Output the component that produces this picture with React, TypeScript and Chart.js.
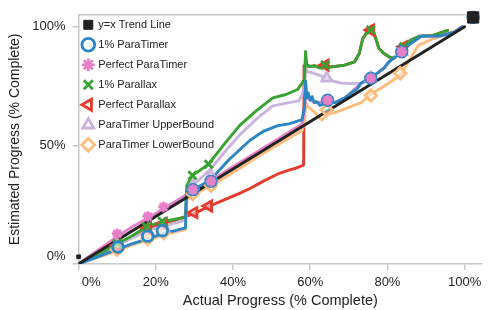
import React, { useEffect, useRef } from "react";
import { Chart, registerables } from "chart.js";

Chart.register(...registerables);

// ---------- labels ----------
const seriesLabels = [
  "y=x Trend Line",
  "1% ParaTimer",
  "Perfect ParaTimer",
  "1% Parallax",
  "Perfect Parallax",
  "ParaTimer UpperBound",
  "ParaTimer LowerBound",
];
const xTitle = "Actual Progress (% Complete)";
const yTitle = "Estimated Progress (% Complete)";
const xTickValues = [0, 0.2, 0.4, 0.6, 0.8, 1.0];
const xTickLabels = ["0%", "20%", "40%", "60%", "80%", "100%"];
const yTickValues = [0, 0.5, 1.0];
const yTickLabels = ["0%", "50%", "100%"];

type P = [number, number];

// ---------- series: lines ----------
const trendLine: P[] = [[0, 0], [1, 1]];

const paraTimer1Line: P[] = [
  [0, 0], [0.05, 0.03], [0.1, 0.062], [0.14, 0.085], [0.179, 0.105], [0.217, 0.128], [0.25, 0.14], [0.277, 0.152],
  [0.279, 0.288], [0.296, 0.31], [0.342, 0.355], [0.39, 0.44], [0.444, 0.521], [0.48, 0.56], [0.516, 0.583],
  [0.545, 0.59], [0.579, 0.608], [0.585, 0.66], [0.588, 0.77], [0.591, 0.7], [0.595, 0.72], [0.6, 0.69],
  [0.605, 0.705], [0.61, 0.68], [0.617, 0.684], [0.625, 0.668], [0.635, 0.675], [0.645, 0.69], [0.664, 0.68],
  [0.69, 0.7], [0.706, 0.721], [0.72, 0.735], [0.732, 0.762], [0.757, 0.783], [0.791, 0.825], [0.804, 0.852],
  [0.837, 0.894], [0.859, 0.928], [0.888, 0.96], [0.935, 0.96], [0.973, 0.977], [0.994, 1.0],
];

const perfectParaTimerLine: P[] = [
  [0, 0], [0.05, 0.058], [0.1, 0.115], [0.14, 0.158], [0.179, 0.192], [0.22, 0.232], [0.25, 0.262], [0.296, 0.31],
  [0.343, 0.352], [0.42, 0.43], [0.503, 0.513], [0.579, 0.59], [0.586, 0.66], [0.588, 0.75], [0.592, 0.7],
  [0.6, 0.69], [0.62, 0.68], [0.645, 0.69], [0.664, 0.68], [0.69, 0.7], [0.706, 0.721], [0.732, 0.762],
  [0.757, 0.783], [0.791, 0.825], [0.804, 0.852], [0.837, 0.894], [0.859, 0.928], [0.888, 0.96], [0.935, 0.96],
  [0.973, 0.977], [0.994, 1.0],
];

const parallax1Line: P[] = [
  [0, 0], [0.05, 0.04], [0.1, 0.085], [0.14, 0.12], [0.176, 0.157], [0.217, 0.178], [0.25, 0.188], [0.277, 0.196],
  [0.28, 0.33], [0.295, 0.373], [0.337, 0.42], [0.342, 0.432], [0.38, 0.51], [0.418, 0.585], [0.46, 0.645],
  [0.503, 0.7], [0.537, 0.714], [0.567, 0.735], [0.579, 0.762], [0.585, 0.78], [0.588, 0.895], [0.591, 0.84],
  [0.6, 0.832], [0.612, 0.835], [0.625, 0.826], [0.639, 0.838], [0.65, 0.83], [0.664, 0.832], [0.689, 0.838],
  [0.715, 0.852], [0.727, 0.887], [0.736, 0.949], [0.749, 0.983], [0.761, 0.99], [0.77, 0.949], [0.778, 0.908],
  [0.791, 0.887], [0.804, 0.873], [0.816, 0.866], [0.83, 0.89], [0.859, 0.942], [0.884, 0.96], [0.918, 0.963],
  [0.956, 0.984],
];

const perfectParallaxLine: P[] = [
  [0, 0], [0.05, 0.04], [0.1, 0.078], [0.14, 0.115], [0.179, 0.148], [0.22, 0.17], [0.25, 0.185], [0.278, 0.2],
  [0.299, 0.212], [0.337, 0.242], [0.38, 0.272], [0.414, 0.295], [0.444, 0.318], [0.48, 0.35], [0.52, 0.382],
  [0.545, 0.395], [0.565, 0.405], [0.583, 0.417], [0.584, 0.835], [0.6, 0.832], [0.612, 0.835], [0.625, 0.826],
  [0.639, 0.838], [0.65, 0.83], [0.664, 0.832], [0.689, 0.838], [0.715, 0.852], [0.727, 0.887], [0.736, 0.949],
  [0.749, 0.983], [0.761, 0.99], [0.77, 0.949], [0.778, 0.908], [0.791, 0.887], [0.804, 0.873], [0.816, 0.866],
  [0.83, 0.89], [0.859, 0.942], [0.884, 0.96], [0.918, 0.963], [0.956, 0.984],
];

const upperBoundLine: P[] = [
  [0, 0], [0.05, 0.04], [0.1, 0.08], [0.14, 0.11], [0.179, 0.14], [0.22, 0.16], [0.25, 0.172], [0.277, 0.185],
  [0.28, 0.315], [0.296, 0.33], [0.342, 0.4], [0.38, 0.475], [0.418, 0.545], [0.46, 0.61], [0.503, 0.666],
  [0.545, 0.68], [0.571, 0.687], [0.579, 0.714], [0.586, 0.75], [0.588, 0.832], [0.592, 0.81], [0.605, 0.805],
  [0.621, 0.797], [0.643, 0.783], [0.66, 0.77], [0.681, 0.762], [0.706, 0.76], [0.732, 0.762], [0.745, 0.772],
  [0.757, 0.783], [0.791, 0.825], [0.804, 0.852], [0.837, 0.894], [0.859, 0.928], [0.888, 0.96], [0.935, 0.96],
  [0.973, 0.977], [0.994, 1.0],
];

const lowerBoundLine: P[] = [
  [0, 0], [0.05, 0.028], [0.1, 0.055], [0.14, 0.08], [0.179, 0.1], [0.22, 0.122], [0.25, 0.135], [0.277, 0.145],
  [0.28, 0.27], [0.296, 0.29], [0.343, 0.33], [0.38, 0.365], [0.42, 0.405], [0.46, 0.448], [0.503, 0.49],
  [0.545, 0.53], [0.579, 0.562], [0.586, 0.6], [0.588, 0.68], [0.592, 0.666], [0.6, 0.655], [0.613, 0.638],
  [0.622, 0.62], [0.63, 0.606], [0.643, 0.63], [0.664, 0.638], [0.698, 0.659], [0.732, 0.68], [0.76, 0.718],
  [0.791, 0.749], [0.816, 0.776], [0.837, 0.804], [0.859, 0.866], [0.88, 0.921], [0.918, 0.949], [0.956, 0.97],
  [0.986, 0.99],
];

// ---------- series: markers ----------
const trendMarkers: P[] = [[0, 0.03], [1.022, 1.039]];
const paraTimer1Markers: P[] = [
  [0.102, 0.071], [0.179, 0.117], [0.217, 0.14], [0.296, 0.313], [0.343, 0.348],
  [0.645, 0.69], [0.757, 0.783], [0.837, 0.894], [1.022, 1.039],
];
const perfectParaTimerMarkers: P[] = [
  [0.1, 0.127], [0.179, 0.2], [0.22, 0.24], [0.296, 0.313], [0.343, 0.348],
  [0.645, 0.69], [0.757, 0.783], [0.837, 0.894],
];
const parallax1Markers: P[] = [
  [0.1, 0.085], [0.176, 0.157], [0.217, 0.179], [0.295, 0.373], [0.337, 0.42],
  [0.639, 0.838], [0.757, 0.986], [0.842, 0.915],
];
const perfectParallaxMarkers: P[] = [
  [0.1, 0.078], [0.179, 0.15], [0.22, 0.17], [0.299, 0.216], [0.337, 0.244],
  [0.639, 0.838], [0.757, 0.986], [0.842, 0.915],
];
const upperBoundMarkers: P[] = [
  [0.1, 0.08], [0.179, 0.14], [0.22, 0.16], [0.296, 0.33], [0.343, 0.37],
  [0.643, 0.783], [0.757, 0.783], [0.837, 0.894],
];
const lowerBoundMarkers: P[] = [
  [0.1, 0.06], [0.179, 0.105], [0.22, 0.13], [0.296, 0.295], [0.343, 0.33],
  [0.643, 0.649], [0.757, 0.71], [0.833, 0.804],
];

// ---------- styling ----------
const COLORS = {
  black: "#222222",
  blue: "#2a86c5",
  pink: "#e680c8",
  green: "#38a232",
  red: "#e63a2c",
  purple: "#c9b5dc",
  orange: "#ffbd7c",
  axis: "#c8c8c8",
  text: "#222222",
};

const toXY = (pts: P[]) => pts.map(([x, y]) => ({ x, y }));

function lineDs(pts: P[], color: string, order: number) {
  return {
    label: "_line",
    data: toXY(pts),
    showLine: true,
    borderColor: color,
    backgroundColor: color,
    borderWidth: 2.9,
    pointRadius: 0,
    pointHoverRadius: 0,
    tension: 0,
    borderJoinStyle: "round",
    borderCapStyle: "round",
    order,
  };
}

function markerDs(label: string, pts: P[], style: any, order: number) {
  return {
    label,
    data: toXY(pts),
    showLine: false,
    clip: false,
    order,
    ...style,
  };
}

const framePlugin = {
  id: "framePlugin",
  afterLayout(chart: any) {
    const lg = chart.legend;
    const ca = chart.chartArea;
    if (!lg || !ca) return;
    lg.left = ca.left - 3.8;
    lg.top = ca.top - 4.5;
    lg.right = lg.left + lg.width;
    lg.bottom = lg.top + lg.height;
  },
  beforeDatasetsDraw(chart: any) {
    const { ctx, chartArea } = chart;
    ctx.save();
    ctx.strokeStyle = COLORS.axis;
    ctx.lineWidth = 1.5;
    ctx.beginPath();
    ctx.moveTo(chartArea.left, chartArea.top);
    ctx.lineTo(chartArea.right - 8, chartArea.top);
    ctx.stroke();
    ctx.restore();
  },
};

function tickLabel(values: number[], labels: string[], v: number) {
  const i = values.findIndex((t) => Math.abs(t - v) < 1e-6);
  return i < 0 ? "" : labels[i];
}

export default function App() {
  const ref = useRef<HTMLCanvasElement | null>(null);

  useEffect(() => {
    if (!ref.current) return;
    Chart.defaults.font.family = "'Liberation Sans', Arial, Helvetica, sans-serif";

    const datasets: any[] = [
      // markers (legend entries, in legend order)
      markerDs(seriesLabels[0], trendMarkers, {
        pointStyle: "rect",
        pointRadius: (c: any) => (c.dataIndex === 0 ? 2.6 : 8),
        pointBorderWidth: 1,
        pointBorderColor: COLORS.black,
        pointBackgroundColor: COLORS.black,
      }, 1),
      markerDs(seriesLabels[1], paraTimer1Markers, {
        pointStyle: "circle",
        pointRadius: 5.3,
        pointBorderWidth: 2.8,
        pointBorderColor: COLORS.blue,
        pointBackgroundColor: "rgba(255,255,255,0.55)",
      }, 4),
      markerDs(seriesLabels[2], perfectParaTimerMarkers, {
        pointStyle: "star",
        pointRadius: 5.3,
        pointBorderWidth: 2.8,
        pointBorderColor: COLORS.pink,
        pointBackgroundColor: COLORS.pink,
      }, 3),
      markerDs(seriesLabels[3], parallax1Markers, {
        pointStyle: "crossRot",
        pointRadius: 5.8,
        pointBorderWidth: 2.8,
        pointBorderColor: COLORS.green,
        pointBackgroundColor: COLORS.green,
      }, 5),
      markerDs(seriesLabels[4], perfectParallaxMarkers, {
        pointStyle: "triangle",
        pointRotation: -90,
        pointRadius: 5.8,
        pointBorderWidth: 2.8,
        pointBorderColor: COLORS.red,
        pointBackgroundColor: "rgba(255,255,255,0.5)",
      }, 6),
      markerDs(seriesLabels[5], upperBoundMarkers, {
        pointStyle: "triangle",
        pointRadius: 5.8,
        pointBorderWidth: 2.8,
        pointBorderColor: COLORS.purple,
        pointBackgroundColor: "rgba(255,255,255,0.5)",
      }, 7),
      markerDs(seriesLabels[6], lowerBoundMarkers, {
        pointStyle: "rectRot",
        pointRadius: 5.8,
        pointBorderWidth: 2.8,
        pointBorderColor: COLORS.orange,
        pointBackgroundColor: "rgba(255,255,255,0.5)",
      }, 8),
      // lines
      lineDs(trendLine, COLORS.black, 10),
      lineDs(paraTimer1Line, COLORS.blue, 11),
      lineDs(parallax1Line, COLORS.green, 12),
      lineDs(perfectParaTimerLine, COLORS.pink, 13),
      lineDs(upperBoundLine, COLORS.purple, 14),
      lineDs(lowerBoundLine, COLORS.orange, 15),
      lineDs(perfectParallaxLine, COLORS.red, 16),
    ];

    const chart = new Chart(ref.current, {
      type: "scatter",
      data: { datasets },
      plugins: [framePlugin],
      options: {
        responsive: false,
        animation: false,
        devicePixelRatio: 1,
        layout: { padding: { top: 10.7, right: 1, left: 0, bottom: 0 } },
        plugins: {
          tooltip: { enabled: false },
          legend: {
            position: "chartArea",
            align: "start",
            labels: {
              usePointStyle: true,
              boxWidth: 9,
              boxHeight: 9,
              padding: 9,
              color: COLORS.text,
              font: { size: 11 },
              filter: (item: any) => item.datasetIndex < 7,
              sort: (a: any, b: any) => a.datasetIndex - b.datasetIndex,
            },
          },
        },
        scales: {
          x: {
            type: "linear",
            min: 0,
            max: 1.045,
            afterFit: (scale: any) => {
              scale.height = 46.1;
            },
            border: { display: true, color: COLORS.axis, width: 1.5 },
            grid: { drawOnChartArea: false, drawTicks: true, tickLength: 6, color: COLORS.axis, lineWidth: 1.5 },
            ticks: {
              stepSize: 0.2,
              includeBounds: false,
              autoSkip: false,
              maxRotation: 0,
              padding: 5,
              color: COLORS.text,
              font: { size: 13 },
              callback: (v: any) => {
                const s = tickLabel(xTickValues, xTickLabels, Number(v));
                return Number(v) === 0 ? "       " + s : s;
              },
            },
            title: {
              display: true,
              text: xTitle,
              color: COLORS.text,
              font: { size: 14.5 },
              padding: { top: 0, bottom: 0 },
            },
          },
          y: {
            type: "linear",
            min: 0,
            max: 1.05,
            afterFit: (scale: any) => {
              scale.width = 78.6;
            },
            border: { display: true, color: COLORS.axis, width: 1.5 },
            grid: { drawOnChartArea: false, drawTicks: true, tickLength: 6, color: COLORS.axis, lineWidth: 1.5 },
            ticks: {
              stepSize: 0.5,
              includeBounds: false,
              padding: 7,
              color: COLORS.text,
              font: { size: 13 },
              callback: (v: any) => {
                const s = tickLabel(yTickValues, yTickLabels, Number(v));
                return Number(v) === 0 ? [s, ""] : s;
              },
            },
            title: {
              display: true,
              text: yTitle,
              color: COLORS.text,
              font: { size: 14 },
              padding: { top: 7, bottom: 0 },
            },
          },
        },
      },
    } as any);

    return () => chart.destroy();
  }, []);

  return (
    <div style={{ position: "fixed", left: 0, top: 0, width: 491, height: 310, background: "#fff" }}>
      <canvas ref={ref} width={491} height={310} style={{ display: "block", width: 491, height: 310 }} />
    </div>
  );
}
